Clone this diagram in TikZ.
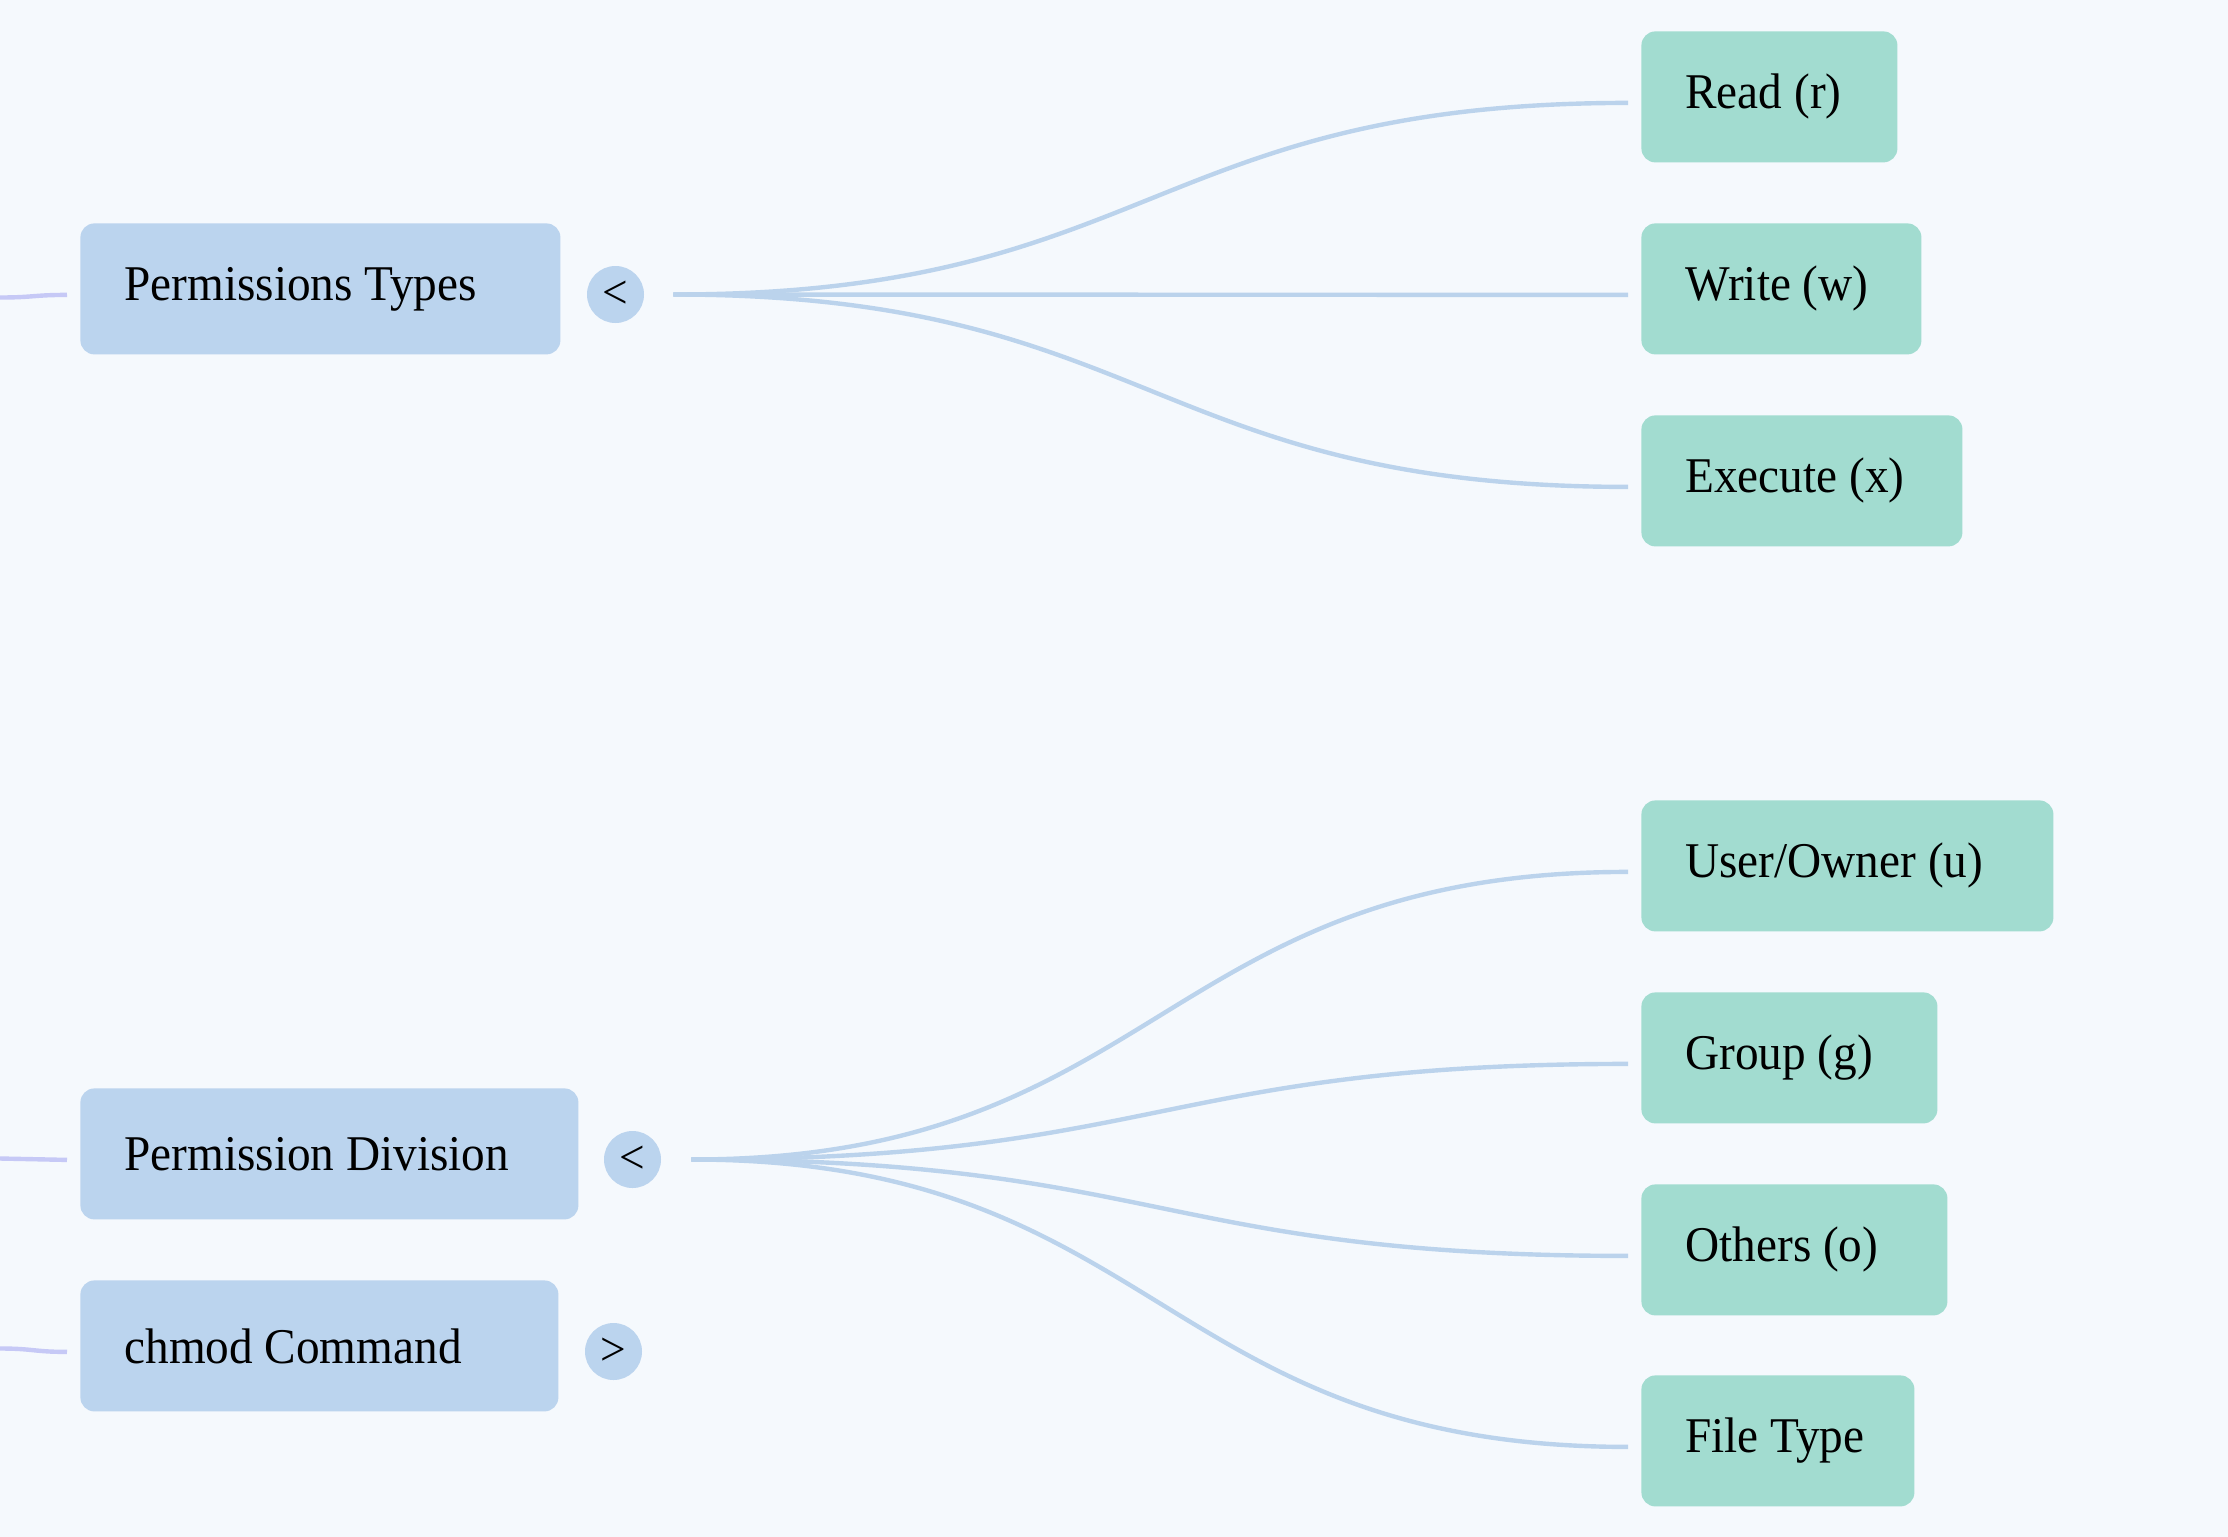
\documentclass[tikz,border=0pt]{standalone}
\usepackage{fontspec}
\setmainfont[FakeStretch=0.945]{Liberation Serif}
\usetikzlibrary{calc}
\definecolor{bgc}{HTML}{F5F9FD}
\definecolor{parentc}{HTML}{BBD4EE}
\definecolor{childc}{HTML}{A2DCD0}
\definecolor{linkc}{HTML}{BBD3EC}
\definecolor{rootlinkc}{HTML}{C6C9F6}
\newcommand\mmlink[3][linkc]{%
  \draw[line width=2.2pt,#1] let \p1=(#2), \p2=(#3) in
    (\p1) .. controls ({(\x1+\x2)/2},\y1) and ({(\x1+\x2)/2},\y2) .. (\p2);}
\begin{document}
\begin{tikzpicture}[x=0.5pt,y=-0.5pt,
  mmbox/.style={rectangle, rounded corners=7pt, anchor=north west,
    minimum height=65.5pt, inner xsep=22pt, inner ysep=0pt, align=flush left,
    font=\fontsize{25pt}{30pt}\selectfont},
  parentbox/.style={mmbox, fill=parentc},
  childbox/.style={mmbox, fill=childc},
  btn/.style={circle, fill=parentc, minimum size=28.5pt, inner sep=0pt,
    font=\fontsize{24pt}{28pt}\selectfont}]
\fill[bgc] (0,0) rectangle (2228,1537);
\useasboundingbox (0,0) rectangle (2228,1537);

% parents
\node[parentbox, text width=196pt] (ptypes) at (80,223) {\mbox{Permissions Types}};
\node[parentbox, text width=205pt] (pdiv) at (80,1088) {\mbox{Permission Division}};
\node[parentbox, text width=195pt] (chmod) at (80,1280) {\mbox{chmod Command}};

% toggle buttons
\node[btn] (ptbtn) at (615.5,294.5) {<};
\node[btn] (pdbtn) at (632.5,1159.5) {<};
\node[btn] (chbtn) at (613.5,1351.5) {>};

% children
\node[childbox, text width=84pt] (read) at (1641,31) {\mbox{Read (r)}};
\node[childbox, text width=96pt] (write) at (1641,223) {\mbox{Write (w)}};
\node[childbox, text width=116.5pt] (exec) at (1641,415) {\mbox{Execute (x)}};
\node[childbox, text width=162pt] (user) at (1641,800) {\mbox{User/Owner (u)}};
\node[childbox, text width=104pt] (group) at (1641,992) {\mbox{Group (g)}};
\node[childbox, text width=109pt] (others) at (1641,1184) {\mbox{Others (o)}};
\node[childbox, text width=92.5pt] (ftype) at (1641,1375) {\mbox{File Type}};

% attachment points
\coordinate (ptout) at ($(ptbtn.east)+(14.5pt,0)$);
\coordinate (pdout) at ($(pdbtn.east)+(15pt,0)$);
\foreach \n in {ptypes,pdiv,chmod,read,write,exec,user,group,others,ftype}
  \coordinate (\n-in) at ($(\n.west)+(-6.5pt,-3pt)$);

% root-side free ends
\coordinate (rootA) at (0,297.5);
\coordinate (rootB) at (0,1158.5);
\coordinate (rootC) at (0,1348.5);

% connectors from the root (off-picture)
\mmlink[rootlinkc]{rootA}{ptypes-in}
\mmlink[rootlinkc]{rootB}{pdiv-in}
\mmlink[rootlinkc]{rootC}{chmod-in}

% connectors to children
\mmlink{ptout}{read-in}
\mmlink{ptout}{write-in}
\mmlink{ptout}{exec-in}
\mmlink{pdout}{user-in}
\mmlink{pdout}{group-in}
\mmlink{pdout}{others-in}
\mmlink{pdout}{ftype-in}
\end{tikzpicture}
\end{document}
